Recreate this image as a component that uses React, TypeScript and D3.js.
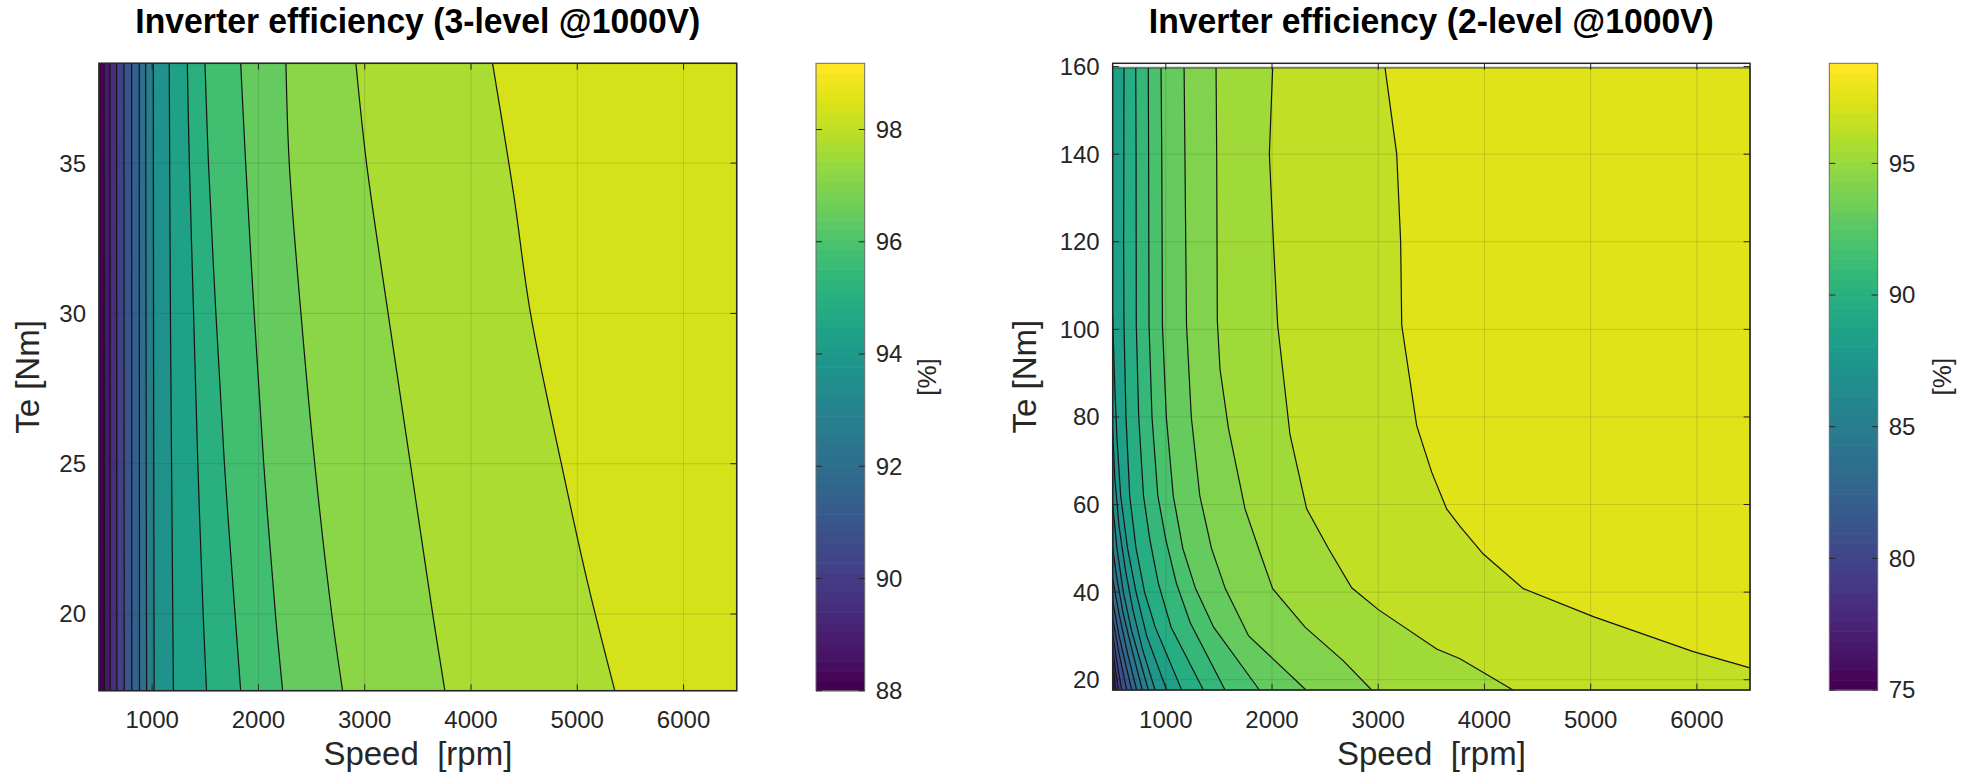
import React from 'react';
import * as d3 from 'd3';

type Pt = [number, number];

// ---------------- shared ----------------
const SPEED_DOMAIN: [number, number] = [500, 6500];
const SPEED_TICKS = [1000, 2000, 3000, 4000, 5000, 6000];

// ---------------- 3-level inverter ----------------
const TITLE_3L = 'Inverter efficiency (3-level @1000V)';
const TE_AXIS_3L: [number, number] = [17.45, 38.32];
const TE_DATA_3L: [number, number] = [17.45, 38.32];
const TE_TICKS_3L = [20, 25, 30, 35];
const CBAR_RANGE_3L: [number, number] = [88, 99.18];
const CBAR_TICKS_3L = [88, 90, 92, 94, 96, 98];
const LEVELS_3L = [88.7, 89.4, 90.1, 90.8, 91.49, 92.19, 92.89, 93.59, 94.29, 94.99,
  95.69, 96.39, 97.09, 97.78, 98.48];
// iso-efficiency lines [speed rpm, torque Nm], one per level
const LINES_3L: Pt[][] = [
  [[547, 38.32], [549, 28], [551, 17.45]],
  [[603, 38.32], [604, 28], [605, 17.45]],
  [[666, 38.32], [667, 28], [668, 17.45]],
  [[735, 38.32], [736, 28], [737, 17.45]],
  [[807, 38.32], [808, 28], [809, 17.45]],
  [[879, 38.32], [880, 28], [881, 17.45]],
  [[939, 38.32], [943, 28], [948, 17.45]],
  [[1011, 38.32], [1014, 28], [1019, 17.45]],
  [[1161, 38.32], [1172, 30], [1185, 24], [1200, 17.45]],
  [[1331, 38.32], [1350, 35], [1390, 30], [1430, 25], [1480, 20], [1512, 17.45]],
  [[1497, 38.32], [1530, 35], [1600, 30], [1680, 25], [1780, 20], [1833, 17.45]],
  [[1833, 38.32], [1880, 35], [1960, 30], [2050, 25], [2160, 20], [2228, 17.45]],
  [[2259, 38.32], [2290, 35], [2400, 30], [2530, 25], [2690, 20], [2792, 17.45]],
  [[2917, 38.32], [3017, 35], [3220, 30], [3430, 25], [3640, 20], [3754, 17.45]],
  [[4203, 38.32], [4400, 34], [4560, 30], [4850, 25], [5100, 21], [5353, 17.45]],
];

// ---------------- 2-level inverter ----------------
const TITLE_2L = 'Inverter efficiency (2-level @1000V)';
const TE_AXIS_2L: [number, number] = [17.65, 160.75];
const TE_DATA_2L: [number, number] = [17.65, 159.7];
const TE_TICKS_2L = [20, 40, 60, 80, 100, 120, 140, 160];
const CBAR_RANGE_2L: [number, number] = [75, 98.8];
const CBAR_TICKS_2L = [75, 80, 85, 90, 95];
const LEVELS_2L = [76.13, 77.27, 78.4, 79.53, 80.67, 81.8, 82.93, 84.07, 85.2, 86.33,
  87.47, 88.6, 89.73, 90.87, 92.0, 93.13, 94.27, 95.4, 96.53, 97.67];
const LINES_2L: Pt[][] = [
  [[500, 19.5], [505, 17.65]],
  [[500, 21.5], [515, 17.65]],
  [[500, 24], [530, 17.65]],
  [[500, 27], [530, 21.5], [555, 17.65]],
  [[500, 30.5], [540, 24], [585, 17.65]],
  [[500, 34], [560, 26], [632, 17.65]],
  [[500, 38], [560, 30], [679, 17.65]],
  [[500, 43], [560, 35], [640, 26], [726, 17.65]],
  [[500, 50], [540, 43], [600, 35], [680, 27], [779, 17.65]],
  [[500, 60], [540, 50], [600, 40], [680, 31], [836, 17.65]],
  [[500, 77], [520, 66], [560, 55], [620, 45], [690, 36], [780, 27], [899, 17.65]],
  [[500, 103], [515, 90], [540, 75], [575, 62], [640, 50], [720, 40], [820, 30], [1008, 17.65]],
  [[606, 159.7], [605, 140], [603, 120], [606, 101], [625, 80], [660, 62], [720, 50], [800, 40], [900, 32], [1150, 17.65]],
  [[717, 159.7], [720, 140], [722, 101], [745, 80], [790, 62], [850, 52], [930, 42], [1050, 32], [1354, 17.65]],
  [[835, 159.7], [838, 140], [842, 101], [870, 80], [925, 62], [1000, 52], [1100, 42], [1230, 33], [1558, 17.65]],
  [[955, 159.7], [962, 140], [968, 101], [1005, 80], [1070, 62], [1160, 50], [1280, 40.8], [1450, 32], [1881, 17.65]],
  [[1172, 159.7], [1180, 140], [1195, 101], [1240, 80], [1320, 62], [1430, 50], [1560, 40.8], [1780, 30], [2320, 17.65]],
  [[1473, 159.7], [1479, 140], [1485, 102], [1510, 91], [1589, 77.5], [1746, 59], [1887, 49], [2006, 40.8], [2311, 32], [2672, 24.3], [2938, 17.65]],
  [[2006, 159.7], [1975, 140], [2013, 120], [2053, 101], [2169, 76], [2326, 59], [2530, 50], [2750, 41], [3001, 36], [3550, 27], [3770, 24.8], [4269, 17.65]],
  [[3064, 159.7], [3174, 140], [3211, 120], [3221, 101], [3362, 78], [3503, 67.4], [3644, 59], [3770, 55], [3989, 48.7], [4366, 40.8], [5025, 34.4], [5966, 26.4], [6500, 22.7]],
];

const FONT = '"Liberation Sans", Arial, Helvetica, sans-serif';
const INK = '#262626';

interface Layout {
  left: number; right: number; top: number; bottom: number;
  cbLeft: number; cbRight: number; ylabX: number; cbLabX: number;
}

interface PanelData {
  title: string; teAxis: [number, number]; teData: [number, number]; teTicks: number[];
  cRange: [number, number]; cTicks: number[]; levels: number[]; lines: Pt[][]; smooth: boolean;
}

function Panel({ d, L }: { d: PanelData; L: Layout }) {
  const x = d3.scaleLinear().domain(SPEED_DOMAIN).range([L.left, L.right]);
  const y = d3.scaleLinear().domain(d.teAxis).range([L.bottom, L.top]);
  const [cmin, cmax] = d.cRange;
  const cy = d3.scaleLinear().domain(d.cRange).range([L.bottom, L.top]);
  const NC = 64;
  const colorOf = (v: number) => {
    const t = (v - cmin) / (cmax - cmin);
    const i = Math.max(0, Math.min(NC - 1, Math.floor(t * NC)));
    return d3.interpolateViridis(i / (NC - 1));
  };
  const curve = d.smooth ? d3.curveCatmullRom.alpha(0.5) : d3.curveLinear;
  const lineGen = d3.line<Pt>().x(p => x(p[0])).y(p => y(p[1])).curve(curve);
  const [xmin, xmax] = SPEED_DOMAIN;
  const [ymin, ymax] = d.teData;
  const near = (a: number, b: number) => Math.abs(a - b) < 1e-6;
  const region = (pts: Pt[]) => {
    const first = pts[0];
    const last = pts[pts.length - 1];
    const extra: Pt[] = [];
    if (near(last[1], ymin) && !near(last[0], xmax)) extra.push([xmax, ymin]);
    extra.push([xmax, ymax]);
    if (near(first[0], xmin) && !near(first[1], ymax)) extra.push([xmin, ymax]);
    return lineGen(pts) + extra.map(e => `L${x(e[0])},${y(e[1])}`).join('') + 'Z';
  };
  const cx = (L.left + L.right) / 2;
  const cyMid = (L.top + L.bottom) / 2;
  const tl = 6.4;
  const cbSteps = d3.range(NC);
  return (
    <g>
      <text x={cx} y={33} textAnchor="middle" fontFamily={FONT} fontWeight="bold" fontSize={35}
        textLength={565} lengthAdjust="spacingAndGlyphs" fill="#000">{d.title}</text>
      {/* filled contours */}
      <rect x={x(xmin)} y={y(ymax)} width={x(xmax) - x(xmin)} height={y(ymin) - y(ymax)} fill={colorOf(cmin)} />
      {d.lines.map((ln, i) => (
        <path key={'f' + i} d={region(ln)} fill={colorOf(d.levels[i])} stroke="none" />
      ))}
      {d.lines.map((ln, i) => (
        <path key={'l' + i} d={lineGen(ln) || ''} fill="none" stroke="#141414" strokeWidth={1.2} />
      ))}
      <rect x={x(xmin)} y={y(ymax)} width={x(xmax) - x(xmin)} height={y(ymin) - y(ymax)} fill="none" stroke="#333" strokeWidth={1} />
      {/* grid */}
      {SPEED_TICKS.map(t => (
        <line key={'gx' + t} x1={x(t)} x2={x(t)} y1={L.top} y2={L.bottom} stroke={INK} strokeOpacity={0.15} strokeWidth={1} />
      ))}
      {d.teTicks.map(t => (
        <line key={'gy' + t} x1={L.left} x2={L.right} y1={y(t)} y2={y(t)} stroke={INK} strokeOpacity={0.15} strokeWidth={1} />
      ))}
      {/* ticks */}
      {SPEED_TICKS.map(t => (
        <g key={'tx' + t}>
          <line x1={x(t)} x2={x(t)} y1={L.bottom} y2={L.bottom - tl} stroke={INK} strokeWidth={1} />
          <line x1={x(t)} x2={x(t)} y1={L.top} y2={L.top + tl} stroke={INK} strokeWidth={1} />
          <text x={x(t)} y={L.bottom + 37.5} textAnchor="middle" fontFamily={FONT} fontSize={24} fill={INK}>{t}</text>
        </g>
      ))}
      {d.teTicks.map(t => (
        <g key={'ty' + t}>
          <line x1={L.left} x2={L.left + tl} y1={y(t)} y2={y(t)} stroke={INK} strokeWidth={1} />
          <line x1={L.right} x2={L.right - tl} y1={y(t)} y2={y(t)} stroke={INK} strokeWidth={1} />
          <text x={L.left - 13} y={y(t)} dy="0.35em" textAnchor="end" fontFamily={FONT} fontSize={24} fill={INK}>{t}</text>
        </g>
      ))}
      <rect x={L.left} y={L.top} width={L.right - L.left} height={L.bottom - L.top} fill="none" stroke={INK} strokeWidth={1.5} />
      {/* axis labels */}
      <text x={cx} y={765} textAnchor="middle" fontFamily={FONT} fontSize={33} fill={INK} xmlSpace="preserve">{'Speed  [rpm]'}</text>
      <text transform={`translate(${L.ylabX},${cyMid}) rotate(-90)`} textAnchor="middle" fontFamily={FONT} fontSize={33} fill={INK}>Te [Nm]</text>
      {/* colorbar */}
      {cbSteps.map(i => {
        const v0 = cmin + (i * (cmax - cmin)) / NC;
        const v1 = cmin + ((i + 1) * (cmax - cmin)) / NC;
        return <rect key={'cb' + i} x={L.cbLeft} width={L.cbRight - L.cbLeft} y={cy(v1)} height={cy(v0) - cy(v1) + 0.6}
          fill={d3.interpolateViridis(i / (NC - 1))} />;
      })}
      <rect x={L.cbLeft} y={L.top} width={L.cbRight - L.cbLeft} height={L.bottom - L.top} fill="none" stroke="#6b6b6b" strokeWidth={1} />
      {d.cTicks.map(t => (
        <g key={'ct' + t}>
          <line x1={L.cbLeft} x2={L.cbLeft + 6} y1={cy(t)} y2={cy(t)} stroke={INK} strokeWidth={1} />
          <line x1={L.cbRight} x2={L.cbRight - 6} y1={cy(t)} y2={cy(t)} stroke={INK} strokeWidth={1} />
          <text x={L.cbRight + 11} y={cy(t)} dy="0.35em" fontFamily={FONT} fontSize={24} fill={INK}>{t}</text>
        </g>
      ))}
      <text transform={`translate(${L.cbLabX},${cyMid}) rotate(-90)`} textAnchor="middle" fontFamily={FONT} fontSize={26} fill={INK}>[%]</text>
    </g>
  );
}

const PANEL_3L: PanelData = {
  title: TITLE_3L, teAxis: TE_AXIS_3L, teData: TE_DATA_3L, teTicks: TE_TICKS_3L,
  cRange: CBAR_RANGE_3L, cTicks: CBAR_TICKS_3L, levels: LEVELS_3L, lines: LINES_3L, smooth: true,
};
const PANEL_2L: PanelData = {
  title: TITLE_2L, teAxis: TE_AXIS_2L, teData: TE_DATA_2L, teTicks: TE_TICKS_2L,
  cRange: CBAR_RANGE_2L, cTicks: CBAR_TICKS_2L, levels: LEVELS_2L, lines: LINES_2L, smooth: false,
};

const LAYOUT_3L: Layout = { left: 99, right: 736.7, top: 63.3, bottom: 690.7, cbLeft: 816, cbRight: 864.7, ylabX: 39, cbLabX: 936 };
const LAYOUT_2L: Layout = { left: 1112.7, right: 1750, top: 63.3, bottom: 690, cbLeft: 1829.3, cbRight: 1877.7, ylabX: 1036, cbLabX: 1951 };

export default function App() {
  return (
    <svg width={1962} height={772} viewBox="0 0 1962 772"
      style={{ position: 'absolute', left: 0, top: 0, background: '#fff' }}>
      <rect x={0} y={0} width={1962} height={772} fill="#fff" />
      <Panel d={PANEL_3L} L={LAYOUT_3L} />
      <Panel d={PANEL_2L} L={LAYOUT_2L} />
    </svg>
  );
}
